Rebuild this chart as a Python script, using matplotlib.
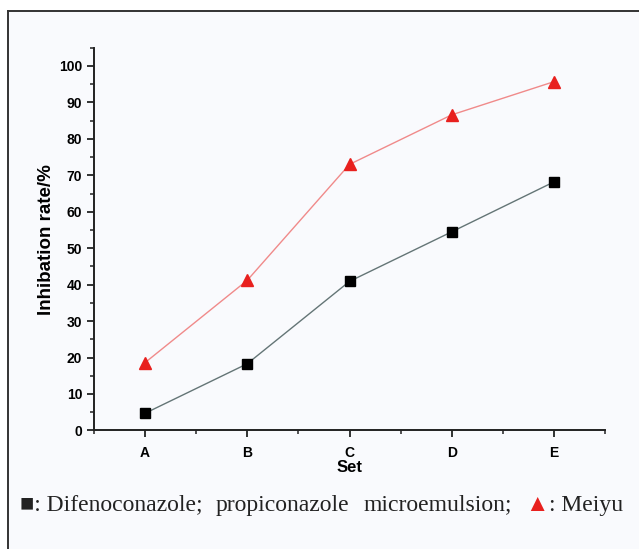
import matplotlib.pyplot as plt
from matplotlib.lines import Line2D
from matplotlib.patches import Rectangle
from matplotlib.ticker import MultipleLocator

sets = ['A', 'B', 'C', 'D', 'E']
difeno = [4.7, 18.3, 40.9, 54.5, 68.2]
meiyu = [18.6, 41.2, 73.0, 86.6, 95.7]
yticks = list(range(0, 101, 10))

plt.rcParams['font.family'] = ['Liberation Sans', 'DejaVu Sans']

fig = plt.figure(figsize=(6.39, 5.49), dpi=100)
fig.patch.set_facecolor('white')

# outer frame (only left and top edges visible)
fig.patches.append(Rectangle((0.0125, 0), 0.99, 0.98, transform=fig.transFigure,
                             facecolor='#f9fafd', edgecolor='none', zorder=-5))
fig.lines.append(Line2D([0.0125, 0.0125], [0, 0.98], transform=fig.transFigure,
                        color='#333333', lw=1.4, zorder=-4))
fig.lines.append(Line2D([0.0125, 1], [0.98, 0.98], transform=fig.transFigure,
                        color='#333333', lw=1.4, zorder=-4))

ax = fig.add_axes([0.147, 0.216, 0.800, 0.697])
ax.patch.set_alpha(0)

x = list(range(len(sets)))
ax.plot(x, difeno, color='#647576', lw=1.0, marker='s', ms=6.5,
        mfc='black', mec='black', zorder=3)
ax.plot(x, meiyu, color='#f08a8a', lw=1.0, marker='^', ms=8.5,
        mfc='#e8201e', mec='#e8201e', zorder=3)

ax.set_xlim(-0.5, 4.5)
ax.set_ylim(0, 105)
ax.set_xticks(x)
ax.set_xticklabels(sets)
ax.xaxis.set_minor_locator(MultipleLocator(0.5))
ax.set_yticks(yticks)
ax.yaxis.set_minor_locator(MultipleLocator(5))

for s in ['top', 'right']:
    ax.spines[s].set_visible(False)
for s in ['left', 'bottom']:
    ax.spines[s].set_linewidth(1.4)
    ax.spines[s].set_color('#222222')

ax.tick_params(which='major', direction='out', length=5, width=1.3,
               labelsize=10, color='#222222')
ax.tick_params(axis='x', which='major', pad=6)
ax.tick_params(which='minor', direction='out', length=3, width=1.1,
               color='#222222')
for lab in ax.get_xticklabels() + ax.get_yticklabels():
    lab.set_fontweight('bold')

ax.set_xlabel('Set', fontsize=12, fontweight='bold', labelpad=0)
ax.set_ylabel('Inhibation rate/%', fontsize=13.5, fontweight='bold', labelpad=3)

# caption legend, words placed to mimic the justified line
caption = [
    ('\u25a0: Difenoconazole;', 20, '#222222'),
    ('propiconazole', 216, '#222222'),
    ('microemulsion;', 364, '#222222'),
    ('\u25b2', 525, '#e8201e'),
    (': Meiyu', 549, '#222222'),
]
for txt, px, col in caption:
    fig.text(px / 639, 0.080, txt, family='Liberation Serif', fontsize=17,
             color=col, va='center')

fig.savefig('out.png', dpi=100)
